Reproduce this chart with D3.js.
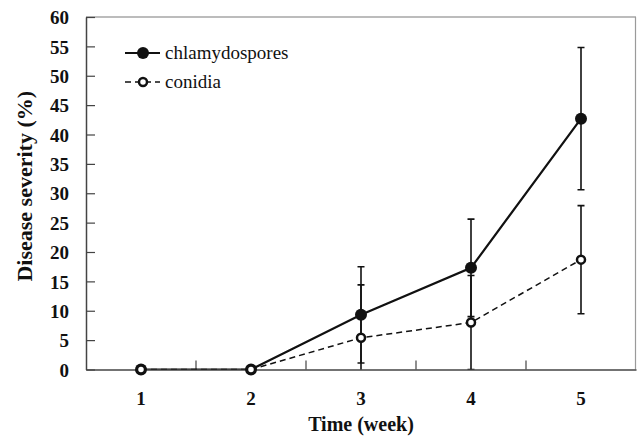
<!DOCTYPE html>
<html>
<head>
<meta charset="utf-8">
<script src="https://cdn.jsdelivr.net/npm/d3@7"></script>
<style>
  html, body { margin: 0; padding: 0; background: #fff; }
  svg { display: block; }
</style>
</head>
<body>
<svg id="chart" width="637" height="437"></svg>
<script>
// Disease severity over time for two inoculum types (mean ± SD)
const weeks = ["1", "2", "3", "4", "5"];
const chlamydospores = [0, 0, 9.3, 17.3, 42.7];
const chlamydosporesSD = [0, 0, 8.2, 8.3, 12.1];
const conidia = [0, 0, 5.4, 8.0, 18.7];
const conidiaSD = [0, 0, 9.0, 8.0, 9.2];
const yTicks = [0, 5, 10, 15, 20, 25, 30, 35, 40, 45, 50, 55, 60];

const SERIF = "'Liberation Serif', 'Times New Roman', serif";
const svg = d3.select("#chart");
const margin = { left: 86, top: 17, right: 1, bottom: 67.5 };
const W = 637, H = 437;
const x0 = margin.left, x1 = W - margin.right;
const y0 = H - margin.bottom, y1 = margin.top;

const x = d3.scaleBand().domain(weeks).range([x0, x1]).padding(0);
const y = d3.scaleLinear().domain([0, 60]).range([y0, y1]);
const cx = d => x(d) + x.bandwidth() / 2;

svg.append("defs").append("clipPath").attr("id", "plotClip")
  .append("rect").attr("x", x0).attr("y", y1 - 2).attr("width", x1 - x0).attr("height", y0 - y1 + 2);

// plot frame: light top/right edges
svg.append("line").attr("x1", x0).attr("x2", x1).attr("y1", y1).attr("y2", y1)
  .attr("stroke", "#7a7a7a").attr("stroke-width", 1.2);
svg.append("line").attr("x1", x1 - 0.5).attr("x2", x1 - 0.5).attr("y1", y1).attr("y2", y0)
  .attr("stroke", "#9a9a9a").attr("stroke-width", 1.2);

// y axis with inward ticks
const yAxis = svg.append("g").attr("transform", `translate(${x0},0)`)
  .call(d3.axisLeft(y).tickValues(yTicks).tickSize(-9).tickPadding(17).tickSizeOuter(0));
yAxis.select(".domain").attr("stroke", "#444").attr("stroke-width", 1.5);
yAxis.selectAll(".tick line").attr("stroke", "#444").attr("stroke-width", 1.2);
yAxis.selectAll(".tick text")
  .style("font-family", SERIF).style("font-size", "19px")
  .style("font-weight", "bold").attr("fill", "#111").attr("dy", "0.35em");

// x axis: labels centred in bands, ticks on band boundaries
const xAxis = svg.append("g").attr("transform", `translate(0,${y0})`)
  .call(d3.axisBottom(x).tickSize(0).tickPadding(22));
xAxis.select(".domain").attr("stroke", "#444").attr("stroke-width", 1.5);
xAxis.selectAll(".tick text")
  .style("font-family", SERIF).style("font-size", "19px")
  .style("font-weight", "bold").attr("fill", "#111");
svg.append("g").selectAll("line").data(weeks.slice(1)).join("line")
  .attr("x1", d => x(d)).attr("x2", d => x(d))
  .attr("y1", y0).attr("y2", y0 - 9)
  .attr("stroke", "#444").attr("stroke-width", 1.2);

// axis titles
svg.append("text").attr("x", (x0 + x1) / 2).attr("y", 431)
  .attr("text-anchor", "middle").style("font-family", SERIF)
  .style("font-size", "20px").style("font-weight", "bold").attr("fill", "#111")
  .text("Time (week)");
svg.append("text").attr("transform", `translate(32,${(y0 + y1) / 2 - 7}) rotate(-90)`)
  .attr("text-anchor", "middle").style("font-family", SERIF)
  .style("font-size", "22px").style("font-weight", "bold").attr("fill", "#111")
  .text("Disease severity (%)");

const plot = svg.append("g").attr("clip-path", "url(#plotClip)");

function errorBars(vals, sds) {
  const g = plot.append("g").attr("stroke", "#111").attr("stroke-width", 1.6);
  weeks.forEach((w, i) => {
    if (!sds[i]) return;
    const hi = vals[i] + sds[i], lo = vals[i] - sds[i];
    g.append("line").attr("x1", cx(w)).attr("x2", cx(w)).attr("y1", y(hi)).attr("y2", y(lo));
    [hi, lo].forEach(v => {
      g.append("line").attr("x1", cx(w) - 3.5).attr("x2", cx(w) + 3.5)
        .attr("y1", y(v)).attr("y2", y(v));
    });
  });
}
errorBars(chlamydospores, chlamydosporesSD);
errorBars(conidia, conidiaSD);

const line = d3.line().x((d, i) => cx(weeks[i])).y(d => y(d));

plot.append("path").datum(conidia).attr("d", line)
  .attr("fill", "none").attr("stroke", "#111").attr("stroke-width", 1.5)
  .attr("stroke-dasharray", "6,4");
plot.append("path").datum(chlamydospores).attr("d", line)
  .attr("fill", "none").attr("stroke", "#111").attr("stroke-width", 2.2);

svg.append("g").selectAll("circle").data(chlamydospores).join("circle")
  .attr("cx", (d, i) => cx(weeks[i])).attr("cy", d => y(d)).attr("r", 6)
  .attr("fill", "#111");
svg.append("g").selectAll("circle").data(conidia).join("circle")
  .attr("cx", (d, i) => cx(weeks[i])).attr("cy", d => y(d)).attr("r", 4)
  .attr("fill", "#fff").attr("stroke", "#111").attr("stroke-width", 2.5);

// legend
const lg = svg.append("g");
lg.append("line").attr("x1", 125).attr("x2", 160).attr("y1", 53).attr("y2", 53)
  .attr("stroke", "#111").attr("stroke-width", 2.2);
lg.append("circle").attr("cx", 143).attr("cy", 53).attr("r", 6).attr("fill", "#111");
lg.append("text").attr("x", 165).attr("y", 53).attr("dy", "0.33em")
  .style("font-family", SERIF).style("font-size", "19px").attr("fill", "#111")
  .text("chlamydospores");
lg.append("line").attr("x1", 125).attr("x2", 160).attr("y1", 82).attr("y2", 82)
  .attr("stroke", "#111").attr("stroke-width", 1.5).attr("stroke-dasharray", "6,4");
lg.append("circle").attr("cx", 143).attr("cy", 82).attr("r", 4)
  .attr("fill", "#fff").attr("stroke", "#111").attr("stroke-width", 2.5);
lg.append("text").attr("x", 165).attr("y", 82).attr("dy", "0.33em")
  .style("font-family", SERIF).style("font-size", "19px").attr("fill", "#111")
  .text("conidia");
</script>
</body>
</html>
